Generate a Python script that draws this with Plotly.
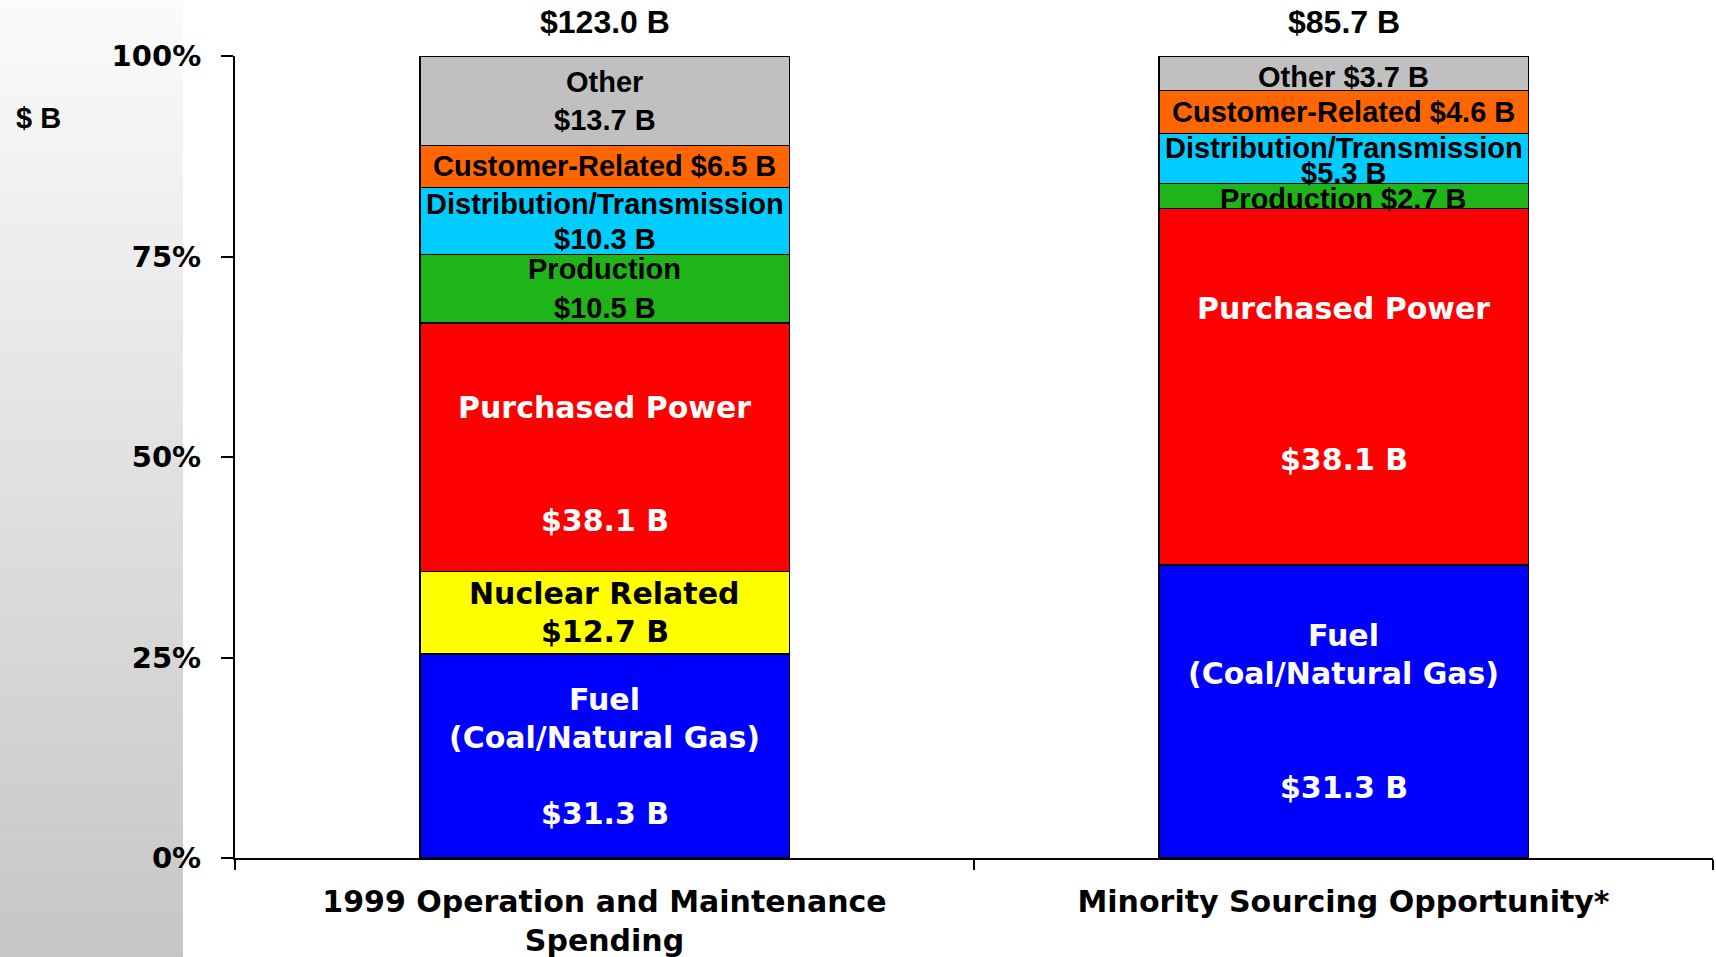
import numpy as np
import plotly.graph_objects as go

# ---- data ($ billions) ----
categories = ["1999 Operation and Maintenance<br>Spending", "Minority Sourcing Opportunity*"]
segments = ["Fuel", "Nuclear Related", "Purchased Power", "Production",
            "Distribution/Transmission", "Customer-Related", "Other"]
fuel = [31.3, 31.3]
nuclear = [12.7, 0.0]
purchased_power = [38.1, 38.1]
production = [10.5, 2.7]
distribution = [10.3, 5.3]
customer = [6.5, 4.6]
other = [13.7, 3.7]
totals = [123.0, 85.7]
y_ticks = [0, 25, 50, 75, 100]
y_tick_text = ["0%", "25%", "50%", "75%", "100%"]

series = [fuel, nuclear, purchased_power, production, distribution, customer, other]
colors = ["#0000FF", "#FFFF00", "#FF0000", "#1FB418", "#00CCFF", "#FF6600", "#C0C0C0"]

# ---- page geometry ----
W, H = 1716, 957
ML, MR, MT, MB = 235, 3, 56, 99
PW, PH = W - ML - MR, H - MT - MB

WIDE = dict(family="DejaVu Sans", weight=700)
NARROW = dict(family="Liberation Sans, Arial", weight=700)

fig = go.Figure()
for name, vals, col in zip(segments, series, colors):
    fig.add_trace(go.Bar(
        x=categories, y=vals, name=name, width=0.5,
        marker=dict(color=col, line=dict(color="#000000", width=1.5)),
        showlegend=False,
    ))

# percent positions of segment mid-points
arr = np.array(series, dtype=float)
pct = arr / arr.sum(axis=0) * 100.0
tops = np.cumsum(pct, axis=0)
mids = tops - pct / 2.0

def fmt(v):
    return f"${v:.1f} B"

# segment labels: (segment index, bar index, lines, font, color, line gap px, extra shift px)
labels = [
    (0, 0, ["Fuel", "(Coal/Natural Gas)", "", fmt(fuel[0])], WIDE, "white", 38, 0),
    (1, 0, ["Nuclear Related", fmt(nuclear[0])], WIDE, "black", 38, 0),
    (2, 0, ["Purchased Power", "", "", fmt(purchased_power[0])], WIDE, "white", 37.6, -17),
    (3, 0, ["Production", fmt(production[0])], NARROW, "black", 39, 0),
    (4, 0, ["Distribution/Transmission", fmt(distribution[0])], NARROW, "black", 35, 0),
    (5, 0, ["Customer-Related " + fmt(customer[0])], NARROW, "black", 0, 0),
    (6, 0, ["Other", fmt(other[0])], NARROW, "black", 38, 0),
    (0, 1, ["Fuel", "(Coal/Natural Gas)", "", "", fmt(fuel[1])], WIDE, "white", 38, 0),
    (2, 1, ["Purchased Power", "", "", "", fmt(purchased_power[1])], WIDE, "white", 37.8, 3),
    (3, 1, ["Production " + fmt(production[1])], NARROW, "black", 0, -3),
    (4, 1, ["Distribution/Transmission", fmt(distribution[1])], NARROW, "black", 25, -2),
    (5, 1, ["Customer-Related " + fmt(customer[1])], NARROW, "black", 0, 0),
    (6, 1, ["Other " + fmt(other[1])], NARROW, "black", 0, -4),
]

annotations = []
for seg, bar, lines, fnt, col, gap, extra in labels:
    n = len(lines)
    size = 30 if fnt is WIDE else 29
    for i, line in enumerate(lines):
        if not line:
            continue
        shift = ((n - 1) / 2.0 - i) * gap + extra
        annotations.append(dict(
            x=categories[bar], y=float(mids[seg, bar]), xref="x", yref="y",
            text=line, showarrow=False, yanchor="middle", xanchor="center",
            yshift=shift, font=dict(size=size, color=col, **fnt),
        ))

# totals above each bar
for bar, tot in enumerate(totals):
    annotations.append(dict(
        x=categories[bar], y=100, xref="x", yref="y", text=fmt(tot),
        showarrow=False, yanchor="middle", yshift=34,
        font=dict(size=32, color="black", **NARROW),
    ))

# unit label
annotations.append(dict(
    x=(38 - ML) / PW, y=(MT + PH - 118) / PH, xref="paper", yref="paper",
    text="$ B", showarrow=False, xanchor="center", yanchor="middle",
    font=dict(size=29, color="black", **NARROW),
))

# grey gradient panel on the left edge
shapes = []
n_strips = 120
top_c, bot_c = np.array([251, 251, 251]), np.array([198, 198, 198])
for k in range(n_strips):
    t = (k + 0.5) / n_strips
    c = (top_c + (bot_c - top_c) * t).round().astype(int)
    py0 = H * k / n_strips
    py1 = H * (k + 1) / n_strips + 1
    shapes.append(dict(
        type="rect", xref="paper", yref="paper", layer="below",
        x0=(0 - ML) / PW, x1=(183 - ML) / PW,
        y0=(MT + PH - py1) / PH, y1=(MT + PH - py0) / PH,
        fillcolor=f"rgb({c[0]},{c[1]},{c[2]})", line=dict(width=0),
    ))

fig.update_layout(
    width=W, height=H,
    margin=dict(l=ML, r=MR, t=MT, b=MB, pad=0, autoexpand=False),
    barmode="stack", barnorm="percent",
    paper_bgcolor="white", plot_bgcolor="white",
    annotations=annotations, shapes=shapes,
    xaxis=dict(
        type="category", tickson="boundaries", ticks="outside", ticklen=10,
        tickwidth=1.5, tickcolor="black", showline=True, linecolor="black",
        linewidth=2, showgrid=False, zeroline=False, automargin=False,
        tickfont=dict(size=30, color="black", **WIDE),
        ticklabelstandoff=16,
    ),
    yaxis=dict(
        range=[0, 100], tickmode="array", tickvals=y_ticks, ticktext=y_tick_text,
        ticks="outside", ticklen=12, tickwidth=1.5, tickcolor="black",
        showline=True, linecolor="black", linewidth=2, showgrid=False,
        zeroline=False, automargin=False,
        tickfont=dict(size=29, color="black", **WIDE),
        ticklabelstandoff=14,
    ),
)

fig.write_html("out.html")
